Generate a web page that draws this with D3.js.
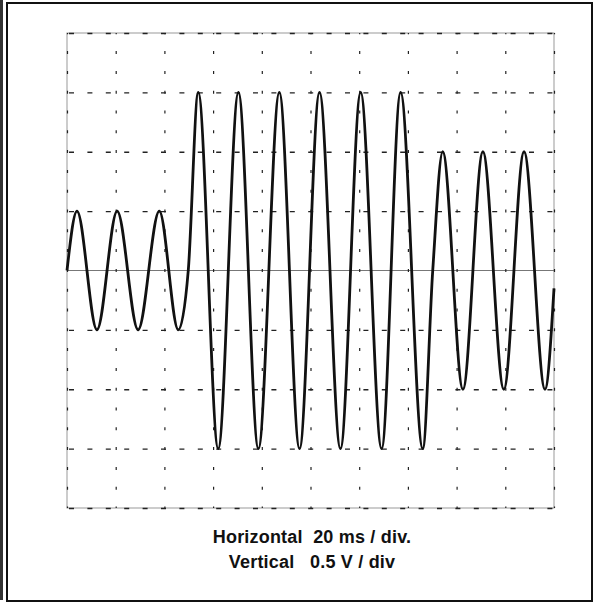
<!DOCTYPE html>
<meta charset="utf-8">
<body style="margin:0;background:white">
  <div id="content"></div>
</body>
<script src="https://cdn.jsdelivr.net/npm/d3@7"></script>
<script>
// scope trace: time in ms, voltage in V
var timeTicks = [0, 20, 40, 60, 80, 100, 120, 140, 160, 180, 200];
var voltTicks = [-2, -1.5, -1, -0.5, 0, 0.5, 1, 1.5, 2];

// extremes / crossings
var waveT = [0, 4.1, 12.3, 20.6, 29.2, 37.9, 45.7, 49.8, 53.9, 62.1, 70.4, 78.6, 87.2, 95.5,
             103.7, 112.3, 120.6, 129.2, 137.0, 146.1, 150.2, 154.3, 162.6, 170.8, 179.4,
             187.7, 196.3, 200];
var waveV = [0, 0.5, -0.5, 0.5, -0.5, 0.5, -0.5, 0, 1.5, -1.5, 1.5, -1.5, 1.5, -1.5,
             1.5, -1.5, 1.5, -1.5, 1.5, -1.5, 0, 1.0, -1.0, 1.0, -1.0,
             1.0, -1.0, -0.15];

var captions = ["Horizontal  20 ms / div.", "Vertical   0.5 V / div"];

var chart = { width: 594, height: 605 };
var plot = { left: 67, right: 554, top: 33, bottom: 508 };

var svg = d3.select('#content').append('svg')
    .attr('width', chart.width).attr('height', chart.height)
    .style('display', 'block').style('background', 'white');

// outer frame
svg.append('rect').attr('x', 0).attr('y', 0).attr('width', 3).attr('height', 600)
    .attr('fill', '#333');
svg.append('rect').attr('x', 7).attr('y', 3).attr('width', 585).attr('height', 598)
    .attr('fill', 'none').attr('stroke', '#111').attr('stroke-width', 2);

var x = d3.scaleLinear().domain([0, 200]).range([plot.left, plot.right]);
var y = d3.scaleLinear().domain([-2, 2]).range([plot.bottom, plot.top]);

// plot border + zero line
svg.append('rect')
    .attr('x', plot.left).attr('y', plot.top)
    .attr('width', plot.right - plot.left).attr('height', plot.bottom - plot.top)
    .attr('fill', 'none').attr('stroke', '#999').attr('stroke-width', 1);
svg.append('line')
    .attr('x1', x(0)).attr('x2', x(200)).attr('y1', y(0)).attr('y2', y(0))
    .attr('stroke', '#777').attr('stroke-width', 1);

// vertical grid (dotted)
var xGrid = svg.append('g')
    .attr('transform', 'translate(0,' + plot.bottom + ')')
    .call(d3.axisBottom(x).tickValues(timeTicks).tickSize(-(plot.bottom - plot.top)).tickFormat(''));
xGrid.select('.domain').remove();
xGrid.selectAll('line')
    .attr('stroke', '#222').attr('stroke-width', 1.2)
    .attr('stroke-dasharray', '3,16.8').attr('stroke-dashoffset', 1.5);

// horizontal grid (dashed)
var yGrid = svg.append('g')
    .attr('transform', 'translate(' + plot.left + ',0)')
    .call(d3.axisLeft(y).tickValues(voltTicks.filter(function (v) { return v !== 0; }))
        .tickSize(-(plot.right - plot.left)).tickFormat(''));
yGrid.select('.domain').remove();
yGrid.selectAll('line')
    .attr('stroke', '#222').attr('stroke-width', 1.3)
    .attr('stroke-dasharray', '5,13.4').attr('stroke-dashoffset', -2);

// trace
var line = d3.line()
    .x(function (d) { return x(d[0]); })
    .y(function (d) { return y(d[1]); })
    .curve(d3.curveMonotoneX);
svg.append('path')
    .datum(d3.zip(waveT, waveV))
    .attr('d', line)
    .attr('fill', 'none').attr('stroke', '#111').attr('stroke-width', 2.8)
    .attr('stroke-linejoin', 'round');

// captions
svg.selectAll('text.cap').data(captions).enter().append('text')
    .attr('class', 'cap')
    .attr('x', 312)
    .attr('y', function (d, i) { return 543 + i * 25; })
    .attr('text-anchor', 'middle')
    .style('white-space', 'pre')
    .style('font-family', '"Liberation Sans", Arial, sans-serif')
    .style('font-weight', 'bold')
    .style('font-size', '18px')
    .style('letter-spacing', '0.2px')
    .attr('fill', '#111')
    .text(function (d) { return d; });
</script>
